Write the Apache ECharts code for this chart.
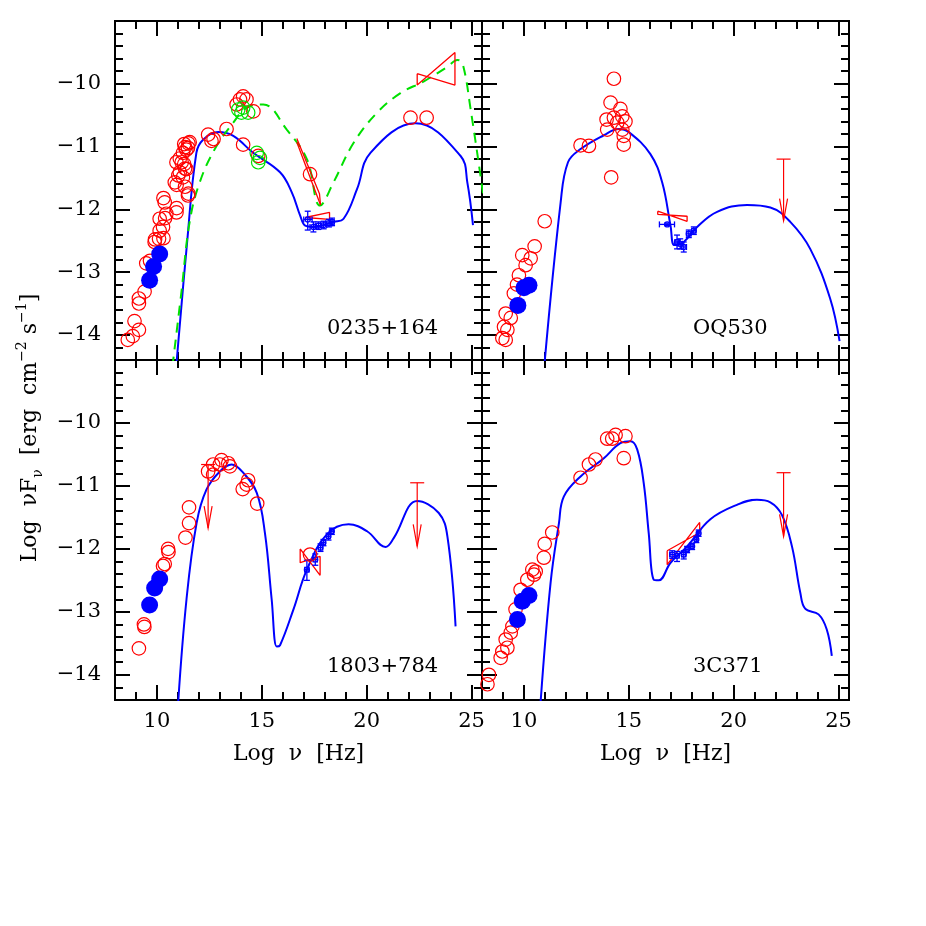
<!DOCTYPE html>
<html>
<head>
<meta charset="utf-8">
<script src="https://cdn.jsdelivr.net/npm/echarts@6/dist/echarts.min.js"></script>
<style>
html, body { margin: 0; padding: 0; background: #fff; }
#chart { width: 926px; height: 926px; }
</style>
</head>
<body>
<div id="chart"></div>
<script>
// ---- ticks ----
const xMajorTicks = [10, 15, 20, 25];
const xMinorTicks = [9, 10, 11, 12, 13, 14, 15, 16, 17, 18, 19, 20, 21, 22, 23, 24, 25];
const yMajorTicks = [-14, -13, -12, -11, -10];
const yMinorTicks = [-14.2, -14, -13.8, -13.6, -13.4, -13.2, -13, -12.8, -12.6, -12.4, -12.2, -12,
    -11.8, -11.6, -11.4, -11.2, -11, -10.8, -10.6, -10.4, -10.2, -10, -9.8, -9.6, -9.4, -9.2];

const sourceNames = ['0235+164', 'OQ530', '1803+784', '3C371'];

// ---- 0235+164 ----
const p1Red = [[8.61,-14.08],[8.85,-14.02],[9.14,-13.92],[8.93,-13.78],[9.14,-13.50],[9.14,-13.42],
    [9.41,-13.31],[9.49,-12.86],[9.67,-12.82],[9.89,-12.52],[9.91,-12.48],[10.1,-12.47],[10.13,-12.34],
    [10.29,-12.28],[10.31,-12.46],[10.45,-12.07],[10.13,-12.15],[10.39,-12.14],[10.37,-11.89],
    [10.93,-12.05],[10.94,-11.98],[10.31,-11.82],[11.48,-11.78],[10.94,-11.61],[11.34,-11.64],
    [11.5,-11.75],[10.85,-11.57],[11.02,-11.46],[11.24,-11.49],[11.09,-11.41],[11.41,-11.36],
    [11.34,-11.35],[10.93,-11.25],[11.18,-11.25],[11.3,-11.28],[11.09,-11.19],[11.24,-11.10],
    [11.48,-11.02],[11.34,-11.01],[11.3,-10.96],[11.56,-10.93],[11.5,-10.95],[11.4,-11.05],
    [12.44,-10.81],[12.6,-10.91],[12.7,-10.88],[13.32,-10.72],[14.11,-10.97],[13.96,-10.25],
    [14.11,-10.20],[14.27,-10.25],[13.8,-10.33],[14.6,-10.44],[14.83,-11.15],[17.3,-11.44],
    [22.09,-10.54],[22.86,-10.54]];
const p1Green = [[13.88,-10.41],[14.11,-10.38],[14.35,-10.46],[14.03,-10.46],[14.76,-11.10],[14.91,-11.18],[14.83,-11.25]];
const p1Blue = [[10.13,-12.71],[9.84,-12.91],[9.65,-13.13]];
const p1Model = [[10.92,-14.5],[11.44,-12.52],[11.88,-11.10],[12.2,-10.89],[12.92,-10.77],[13.64,-10.83],
    [14.59,-11.10],[15.87,-11.41],[16.43,-11.73],[16.83,-12.10],[17.07,-12.26],[17.46,-12.28],[18.42,-12.20],
    [18.9,-12.15],[19.54,-11.68],[20.18,-11.10],[22.33,-10.63],[24.48,-11.15],[24.8,-11.57],[25.07,-12.25]];
const p1ModelAlt = [[10.74,-14.5],[11.17,-13.31],[11.56,-12.20],[12.04,-11.57],[12.76,-11.04],[13.64,-10.62],
    [14.28,-10.38],[15.07,-10.33],[16.19,-10.73],[17.15,-11.20],[17.78,-11.94],[18.42,-11.57],[19.38,-10.94],
    [20.5,-10.46],[21.61,-10.15],[22.73,-9.96],[23.85,-9.73],[24.33,-9.62],[24.57,-9.67],[24.96,-10.41],[25.55,-11.75]];
// [x, y, xLo, xHi, yLo, yHi]
const p1Xray = [[17.19,-12.16,17.0,17.4,-12.03,-12.33],[17.46,-12.28,17.3,17.6,-12.20,-12.36],
    [17.7,-12.26,17.55,17.85,-12.20,-12.32],[17.95,-12.25,17.8,18.1,-12.19,-12.31],
    [18.2,-12.22,18.05,18.35,-12.16,-12.28],[18.35,-12.20,18.25,18.45,-12.14,-12.26]];
const p1Bowties = [
    [[16.67,-10.87],[17.75,-11.75],[17.8,-11.93]],
    [[16.67,-10.93],[17.8,-11.93]],
    [[17.07,-12.13],[18.23,-12.05],[18.23,-12.16],[17.07,-12.13]],
    [[22.41,-9.84],[24.21,-10.02],[24.21,-9.50],[22.41,-10.02],[22.41,-9.84]]];
const p1Limits = [];

// ---- OQ530 ----
const p2Red = [[14.29,-9.92],[14.13,-10.30],[14.6,-10.40],[13.94,-10.57],[14.29,-10.54],[14.69,-10.52],
    [14.45,-10.62],[14.84,-10.60],[13.97,-10.73],[14.69,-10.73],[14.76,-10.83],[14.76,-10.97],[12.7,-10.98],
    [13.1,-10.99],[14.16,-11.49],[10.99,-12.19],[10.51,-12.59],[9.92,-12.73],[10.32,-12.78],[10.08,-12.89],
    [9.76,-13.05],[9.52,-13.34],[9.67,-13.20],[9.13,-13.66],[9.37,-13.73],[9.05,-13.87],[9.21,-13.92],
    [8.97,-14.05],[9.13,-14.08]];
const p2Blue = [[9.71,-13.53],[10.0,-13.25],[10.24,-13.21]];
const p2Model = [[10.97,-14.5],[11.75,-11.89],[12.1,-11.25],[12.7,-11.04],[13.81,-10.82],[14.52,-10.72],
    [15.0,-10.77],[16.03,-11.12],[16.59,-11.57],[16.99,-12.26],[17.18,-12.57],[17.62,-12.52],[18.26,-12.28],
    [19.21,-12.04],[20.64,-11.93],[21.75,-11.97],[22.7,-12.20],[23.65,-12.63],[24.6,-13.42],[25.05,-14.10]];
const p2Xray = [[16.83,-12.24,16.46,17.18,-12.22,-12.26],[17.3,-12.52,17.2,17.4,-12.41,-12.63],
    [17.45,-12.55,17.35,17.55,-12.47,-12.63],[17.62,-12.60,17.5,17.75,-12.52,-12.68],
    [17.86,-12.39,17.75,17.97,-12.33,-12.45],[18.1,-12.34,18.0,18.2,-12.28,-12.40]];
const p2Bowties = [[[16.38,-12.03],[17.78,-12.19],[17.78,-12.11],[16.38,-12.08],[16.38,-12.03]]];
// [x, top, arrow tip]
const p2Limits = [[22.38,-11.20,-12.18]];

// ---- 1803+784 ----
const p3Red = [[9.14,-13.58],[9.38,-13.20],[9.4,-13.24],[10.29,-12.27],[10.37,-12.24],[10.53,-12.0],
    [10.55,-12.05],[11.36,-11.82],[11.53,-11.59],[11.53,-11.34],[12.44,-10.77],[12.68,-10.82],[12.68,-10.66],
    [13.08,-10.59],[13.4,-10.64],[13.48,-10.69],[13.0,-10.66],[14.35,-10.91],[14.28,-10.98],[14.09,-11.05],
    [14.78,-11.28],[9.94,-12.60],[17.3,-12.09]];
const p3Blue = [[9.65,-12.89],[9.89,-12.62],[10.13,-12.48]];
const p3Model = [[11.0,-14.5],[11.41,-12.80],[11.89,-11.59],[12.36,-11.06],[13.0,-10.77],[13.56,-10.66],
    [14.11,-10.79],[14.76,-11.11],[15.15,-11.75],[15.47,-12.80],[15.71,-13.55],[15.87,-13.53],[16.51,-12.96],
    [17.15,-12.33],[18.1,-11.77],[19.14,-11.61],[20.02,-11.72],[20.9,-11.97],[21.29,-11.83],[22.41,-11.24],
    [23.44,-11.43],[23.85,-11.80],[24.24,-13.23]];
const p3Xray = [[17.15,-12.33,17.05,17.25,-12.18,-12.50],[17.55,-12.17,17.45,17.65,-12.08,-12.26],
    [17.8,-11.98,17.7,17.9,-11.92,-12.04],[17.94,-11.90,17.85,18.03,-11.85,-11.95],
    [18.18,-11.80,18.1,18.26,-11.75,-11.86],[18.34,-11.72,18.27,18.42,-11.67,-11.77]];
const p3Bowties = [[[16.83,-12.0],[17.78,-12.42],[17.78,-12.12],[16.83,-12.22],[16.83,-12.0]]];
const p3Limits = [[12.44,-10.66,-11.67],[22.41,-10.95,-11.96]];

// ---- 3C371 ----
const p4Red = [[8.33,-14.0],[8.26,-14.15],[8.89,-13.73],[8.97,-13.63],[9.21,-13.57],[9.13,-13.44],
    [9.37,-13.33],[9.45,-13.23],[9.60,-12.96],[9.84,-12.65],[10.16,-12.49],[10.40,-12.33],[10.56,-12.36],
    [10.48,-12.41],[10.95,-12.14],[10.99,-11.92],[11.35,-11.74],[12.70,-10.87],[13.10,-10.66],[13.41,-10.58],
    [13.97,-10.25],[14.37,-10.19],[14.21,-10.25],[14.84,-10.21],[14.76,-10.56]];
const p4Blue = [[9.69,-13.12],[9.92,-12.83],[10.24,-12.74]];
const p4Model = [[10.78,-14.5],[11.27,-12.54],[11.67,-11.59],[11.90,-11.17],[12.70,-10.85],[13.81,-10.56],
    [14.60,-10.32],[15.08,-10.29],[15.40,-10.42],[15.71,-10.95],[15.95,-11.75],[16.19,-12.49],[16.43,-12.50],
    [16.99,-12.22],[17.78,-11.96],[18.89,-11.53],[20.16,-11.30],[21.11,-11.22],[21.75,-11.26],[22.30,-11.46],
    [22.78,-11.96],[23.18,-12.70],[23.41,-12.95],[24.05,-13.04],[24.44,-13.28],[24.68,-13.70]];
const p4Xray = [[17.07,-12.09,16.95,17.2,-12.03,-12.15],[17.30,-12.11,17.2,17.4,-12.04,-12.20],
    [17.62,-12.09,17.52,17.72,-12.03,-12.16],[17.78,-12.01,17.7,17.86,-11.96,-12.06],
    [18.02,-11.96,17.95,18.1,-11.91,-12.01],[18.22,-11.85,18.15,18.29,-11.80,-11.90],
    [18.33,-11.75,18.27,18.4,-11.70,-11.80]];
const p4Bowties = [[[16.83,-12.03],[18.38,-11.74],[18.38,-11.58],[16.83,-12.25],[16.83,-12.03]]];
const p4Limits = [[22.38,-10.79,-11.80]];

const RED = '#ff0000', BLUE = '#0000ff', GREEN = '#00e000';
const FONT = 'DejaVu Serif';

const panels = [
    {red: p1Red, green: p1Green, blue: p1Blue, model: p1Model, alt: p1ModelAlt, xray: p1Xray, bowties: p1Bowties, limits: p1Limits},
    {red: p2Red, green: [], blue: p2Blue, model: p2Model, alt: null, xray: p2Xray, bowties: p2Bowties, limits: p2Limits},
    {red: p3Red, green: [], blue: p3Blue, model: p3Model, alt: null, xray: p3Xray, bowties: p3Bowties, limits: p3Limits},
    {red: p4Red, green: [], blue: p4Blue, model: p4Model, alt: null, xray: p4Xray, bowties: p4Bowties, limits: p4Limits}
];

const grids = [
    {left: 115, top: 21, width: 367, height: 339},
    {left: 482, top: 21, width: 367, height: 339},
    {left: 115, top: 360, width: 367, height: 340},
    {left: 482, top: 360, width: 367, height: 340}
];

const lineBlack = {color: '#000', width: 2};
const xAxes = [], yAxes = [];
grids.forEach((g, gi) => {
    const bottomRow = gi >= 2, leftCol = gi % 2 === 0;
    [['bottom', false], ['bottom', true], ['top', false], ['top', true]].forEach(([pos, major]) => {
        const withLabels = major && pos === 'bottom' && bottomRow;
        xAxes.push({
            type: 'value', gridIndex: gi, position: pos, min: 8, max: 25.5,
            axisLine: {show: true, onZero: false, lineStyle: lineBlack},
            splitLine: {show: false},
            axisTick: {show: true, inside: true, length: major ? 15 : 8,
                customValues: major ? xMajorTicks : xMinorTicks, lineStyle: lineBlack},
            axisLabel: withLabels ? {show: true, customValues: xMajorTicks, margin: 11,
                fontSize: 21, fontFamily: FONT, color: '#000'} : {show: false},
            name: withLabels ? 'Log  ν  [Hz]' : '',
            nameLocation: 'middle', nameGap: 43,
            nameTextStyle: {fontSize: 22, fontFamily: FONT, color: '#000'}
        });
    });
    [['left', false], ['left', true], ['right', false], ['right', true]].forEach(([pos, major]) => {
        const withLabels = major && pos === 'left' && leftCol;
        yAxes.push({
            type: 'value', gridIndex: gi, position: pos, min: -14.4, max: -9,
            axisLine: {show: true, onZero: false, lineStyle: lineBlack},
            splitLine: {show: false},
            axisTick: {show: true, inside: true, length: major ? 15 : 8,
                customValues: major ? yMajorTicks : yMinorTicks, lineStyle: lineBlack},
            axisLabel: withLabels ? {show: true, customValues: yMajorTicks, margin: 14,
                fontSize: 21, fontFamily: FONT, color: '#000',
                formatter: v => '\u2212' + Math.abs(v)} : {show: false}
        });
    });
});

function renderErr(params, api) {
    const c = api.coord([api.value(0), api.value(1)]);
    const xl = api.coord([api.value(2), api.value(1)]);
    const xh = api.coord([api.value(3), api.value(1)]);
    const yl = api.coord([api.value(0), api.value(4)]);
    const yh = api.coord([api.value(0), api.value(5)]);
    const st = {stroke: BLUE, lineWidth: 1.3, fill: null};
    const cap = 3;
    return {type: 'group', children: [
        {type: 'line', shape: {x1: xl[0], y1: c[1], x2: xh[0], y2: c[1]}, style: st},
        {type: 'line', shape: {x1: c[0], y1: yl[1], x2: c[0], y2: yh[1]}, style: st},
        {type: 'line', shape: {x1: c[0] - cap, y1: yl[1], x2: c[0] + cap, y2: yl[1]}, style: st},
        {type: 'line', shape: {x1: c[0] - cap, y1: yh[1], x2: c[0] + cap, y2: yh[1]}, style: st},
        {type: 'line', shape: {x1: xl[0], y1: c[1] - cap, x2: xl[0], y2: c[1] + cap}, style: st},
        {type: 'line', shape: {x1: xh[0], y1: c[1] - cap, x2: xh[0], y2: c[1] + cap}, style: st},
        {type: 'circle', shape: {cx: c[0], cy: c[1], r: 2.5}, style: st}
    ]};
}

function renderLimit(params, api) {
    const top = api.coord([api.value(0), api.value(1)]);
    const tip = api.coord([api.value(0), api.value(2)]);
    const st = {stroke: RED, lineWidth: 1.2, fill: null};
    return {type: 'group', children: [
        {type: 'line', shape: {x1: top[0], y1: top[1], x2: tip[0], y2: tip[1]}, style: st},
        {type: 'line', shape: {x1: top[0] - 7, y1: top[1], x2: top[0] + 7, y2: top[1]}, style: st},
        {type: 'polyline', shape: {points: [[tip[0] - 4, tip[1] - 22], [tip[0], tip[1]], [tip[0] + 4, tip[1] - 22]]}, style: st}
    ]};
}

const series = [];
panels.forEach((p, gi) => {
    const ax = {xAxisIndex: 4 * gi, yAxisIndex: 4 * gi};
    series.push(Object.assign({type: 'line', data: p.model, symbol: 'none', smooth: 0.4,
        lineStyle: {color: BLUE, width: 2}, z: 3}, ax));
    if (p.alt) {
        series.push(Object.assign({type: 'line', data: p.alt, symbol: 'none', smooth: 0.4,
            lineStyle: {color: GREEN, width: 2, type: [10, 7]}, z: 3}, ax));
    }
    p.bowties.forEach(b => {
        series.push(Object.assign({type: 'line', data: b, symbol: 'none',
            lineStyle: {color: RED, width: 1.3}, z: 4}, ax));
    });
    series.push(Object.assign({type: 'custom', data: p.xray, renderItem: renderErr, z: 5}, ax));
    if (p.limits.length) {
        series.push(Object.assign({type: 'custom', data: p.limits, renderItem: renderLimit, z: 5}, ax));
    }
    series.push(Object.assign({type: 'scatter', data: p.red, symbol: 'circle', symbolSize: 13.5,
        itemStyle: {color: 'rgba(0,0,0,0)', borderColor: RED, borderWidth: 1.2, opacity: 1}, z: 6}, ax));
    if (p.green.length) {
        series.push(Object.assign({type: 'scatter', data: p.green, symbol: 'circle', symbolSize: 13.5,
            itemStyle: {color: 'rgba(0,0,0,0)', borderColor: GREEN, borderWidth: 1.2, opacity: 1}, z: 6}, ax));
    }
    series.push(Object.assign({type: 'scatter', data: p.blue, symbol: 'circle', symbolSize: 17,
        itemStyle: {color: BLUE, opacity: 1}, z: 7}, ax));
});

const labelPos = [[327, 330], [693, 330], [327, 668], [693, 668]];
const graphic = sourceNames.map((n, i) => ({
    type: 'text', left: labelPos[i][0], top: labelPos[i][1] - 12,
    style: {text: n, fontSize: 21, fontFamily: FONT, fill: '#000'}, z: 10
}));
graphic.push({
    type: 'text', x: 30, y: 428, rotation: Math.PI / 2,
    style: {
        text: '{n|Log  νF}{s|ν}{n|  [erg  cm}{p|−2}{n| s}{p|−1}{n|]}',
        align: 'center', verticalAlign: 'middle', fill: '#000',
        rich: {
            n: {fontSize: 22, fontFamily: FONT, fill: '#000', lineHeight: 30, verticalAlign: 'middle'},
            s: {fontSize: 14, fontFamily: FONT, fill: '#000', lineHeight: 30, verticalAlign: 'bottom'},
            p: {fontSize: 14, fontFamily: FONT, fill: '#000', lineHeight: 30, verticalAlign: 'top'}
        }
    }, z: 10
});

const chart = echarts.init(document.getElementById('chart'));
chart.setOption({
    animation: false,
    backgroundColor: '#fff',
    grid: grids.map(g => Object.assign({outerBoundsMode: 'none'}, g)),
    xAxis: xAxes,
    yAxis: yAxes,
    series: series,
    graphic: graphic
});
window.addEventListener('resize', chart.resize);
</script>
</body>
</html>
